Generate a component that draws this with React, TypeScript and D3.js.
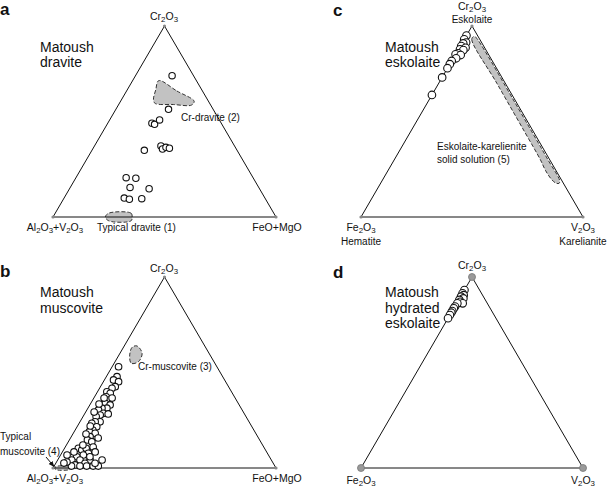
import React from 'react';
import * as d3 from 'd3';

const FONT = '"Liberation Sans", Arial, Helvetica, sans-serif';

// ---- Data: ternary points as [top component, right component]; left = 1 - top - right ----
// Panel a: Matoush dravite  [Cr2O3, FeO+MgO]
const dravitePoints: [number, number][] = [
  [0.740, 0.164], [0.564, 0.236], [0.491, 0.198], [0.485, 0.213], [0.508, 0.224],
  [0.349, 0.235], [0.372, 0.298], [0.356, 0.313], [0.365, 0.324], [0.360, 0.342],
  [0.206, 0.225], [0.203, 0.270], [0.155, 0.268], [0.148, 0.357],
  [0.099, 0.270], [0.093, 0.296], [0.096, 0.350],
];
const crDraviteField: [number, number][] = [
  [0.714, 0.117], [0.66, 0.225], [0.606, 0.330], [0.586, 0.328], [0.589, 0.245],
  [0.595, 0.160], [0.615, 0.143], [0.665, 0.128],
];
const typicalDraviteField: [number, number][] = [
  [0.02, 0.24], [0.02, 0.34], [0.0, 0.355], [-0.02, 0.36], [-0.02, 0.26], [0.0, 0.235],
];

// Panel b: Matoush muscovite [Cr2O3, FeO+MgO]
const muscovitePoints: [number, number][] = [
  [0.530, 0.029], [0.478, 0.048], [0.461, 0.041], [0.452, 0.068], [0.426, 0.066],
  [0.417, 0.056], [0.399, 0.042], [0.391, 0.061], [0.373, 0.052], [0.356, 0.071],
  [0.339, 0.065], [0.330, 0.091], [0.313, 0.085], [0.313, 0.063], [0.304, 0.052],
  [0.286, 0.083], [0.277, 0.073], [0.269, 0.059], [0.242, 0.090], [0.242, 0.068],
  [0.234, 0.057], [0.216, 0.088], [0.199, 0.079], [0.190, 0.068], [0.182, 0.098],
  [0.164, 0.084], [0.147, 0.081], [0.138, 0.105], [0.103, 0.062], [0.094, 0.082],
  [0.103, 0.097], [0.077, 0.120], [0.068, 0.102], [0.059, 0.077], [0.042, 0.063],
  [0.042, 0.100], [0.042, 0.145], [0.025, 0.131], [0.016, 0.091], [0.010, 0.116],
  [0.010, 0.146], [0.010, 0.175], [0.010, 0.198], [0.010, 0.078], [0.025, 0.176],
  [0.059, 0.136], [0.031, 0.047],
  [0.366, 0.046], [0.366, 0.082], [0.335, 0.039], [0.283, 0.106], [0.293, 0.038],
  [0.220, 0.057], [0.178, 0.059], [0.157, 0.124], [0.120, 0.074], [0.110, 0.125],
  [0.084, 0.052], [0.084, 0.147], [0.068, 0.029], [0.042, 0.199], [0.026, 0.036],
];
const crMuscoviteField: [number, number][] = [
  [0.639, 0.057], [0.601, 0.099], [0.557, 0.105], [0.548, 0.077], [0.592, 0.048], [0.632, 0.039],
];
const typicalMuscoviteField: [number, number][] = [
  [0.008, 0.01], [0.008, 0.075], [0.0, 0.082], [-0.008, 0.08], [-0.008, 0.015], [0.0, 0.008],
];

// Panel c: Matoush eskolaite [Cr2O3, V2O3]
const eskolaitePoints: [number, number][] = [
  [0.950, 0.0], [0.930, 0.0], [0.913, 0.017], [0.909, 0.006], [0.895, 0.004],
  [0.886, 0.028], [0.878, 0.007], [0.874, 0.024], [0.857, 0.009], [0.852, 0.0],
  [0.848, 0.025], [0.831, 0.013], [0.817, 0.0], [0.800, 0.0], [0.779, 0.0],
  [0.731, 0.0], [0.639, 0.0],
];
const eskKarField: [number, number][] = [
  [0.945, 0.035], [0.93, 0.034], [0.70, 0.262], [0.45, 0.510], [0.30, 0.658],
  [0.245, 0.708], [0.20, 0.756], [0.178, 0.788], [0.176, 0.804], [0.19, 0.800],
  [0.30, 0.692], [0.60, 0.393], [0.90, 0.092], [0.94, 0.048],
];

// Panel d: Matoush hydrated eskolaite [Cr2O3, V2O3]
const hydratedPoints: [number, number][] = [
  [0.932, 0.0], [0.915, 0.0], [0.905, 0.010], [0.897, 0.002], [0.888, 0.017],
  [0.880, 0.003], [0.870, 0.012], [0.862, 0.027], [0.862, 0.003], [0.845, 0.001],
  [0.836, 0.0], [0.822, 0.0], [0.813, 0.0], [0.801, 0.0], [0.784, 0.0],
];

// ---- Layout ----
type Geom = { x0: number; x1: number; yBase: number; yTop: number };
const geoA: Geom = { x0: 53, x1: 276, yBase: 217, yTop: 26 };
const geoB: Geom = { x0: 53, x1: 276, yBase: 468, yTop: 277 };
const geoC: Geom = { x0: 361, x1: 583, yBase: 217, yTop: 26 };
const geoD: Geom = { x0: 361, x1: 583, yBase: 468, yTop: 277 };

function projector(g: Geom) {
  const x = d3.scaleLinear().domain([0, 1]).range([g.x0, g.x1]);
  const y = d3.scaleLinear().domain([0, 1]).range([g.yBase, g.yTop]);
  return (p: [number, number]): [number, number] => [x(p[1] + p[0] / 2), y(p[0])];
}

function Chem({ text, x, y, size = 10.5, anchor = 'middle' }: any) {
  const parts: string[] = text.match(/\d+|\D+/g) || [];
  const shift = size * 0.2;
  let prevSub = false;
  return (
    <text x={x} y={y} fontSize={size} textAnchor={anchor} fontFamily={FONT} fill="#111">
      {parts.map((p, i) => {
        const isD = /^\d+$/.test(p);
        const dy = isD ? shift : prevSub ? -shift : 0;
        prevSub = isD;
        return (
          <tspan key={i} dy={dy} fontSize={isD ? size * 0.75 : size}>{p}</tspan>
        );
      })}
    </text>
  );
}

function Label({ x, y, children, size = 10, anchor = 'start', weight = 'normal' }: any) {
  return (
    <text x={x} y={y} fontSize={size} textAnchor={anchor} fontFamily={FONT} fontWeight={weight} fill="#111">
      {children}
    </text>
  );
}

function Panel({ g, points, fields, r, bigVertex }: any) {
  const proj = projector(g);
  const tri = d3.line()([proj([1, 0]), proj([0, 0]), proj([0, 1])]) + 'Z';
  const fieldLine = d3.line().curve(d3.curveCatmullRomClosed.alpha(0.5));
  const verts = [proj([1, 0]), proj([0, 0]), proj([0, 1])];
  return (
    <g>
      {fields.map((f: any, i: number) => (
        <path key={i} d={fieldLine(f.map(proj)) || ''} fill="#c2c2c2" stroke="#333"
          strokeWidth={1} strokeDasharray="4 2" />
      ))}
      <path d={tri} fill="none" stroke="#111" strokeWidth={1} />
      {verts.map((v, i) => (
        <circle key={i} cx={v[0]} cy={v[1]} r={bigVertex ? 3.5 : 1.6}
          fill={bigVertex ? '#9a9a9a' : '#888'} stroke={bigVertex ? '#777' : 'none'} strokeWidth={0.8} />
      ))}
      {points.map((p: [number, number], i: number) => {
        const [cx, cy] = proj(p);
        return <circle key={i} cx={cx} cy={cy} r={r} fill="#fff" stroke="#111" strokeWidth={1.1} />;
      })}
    </g>
  );
}

export default function App() {
  return (
    <svg width={609} height={489} style={{ position: 'absolute', left: 0, top: 0, background: '#fff' }}
      xmlns="http://www.w3.org/2000/svg">
      <rect width={609} height={489} fill="#fff" />
      <defs>
        <marker id="arr" viewBox="0 0 10 10" refX="9" refY="5" markerWidth="6" markerHeight="6" orient="auto">
          <path d="M0,1 L10,5 L0,9 Z" fill="#111" />
        </marker>
      </defs>

      {/* Panel a */}
      <Label x={0} y={15} size={17} weight="bold">a</Label>
      <Panel g={geoA} points={dravitePoints} fields={[crDraviteField, typicalDraviteField]} r={3.2} />
      <Chem text="Cr2O3" x={164} y={20} />
      <Chem text="Al2O3+V2O3" x={55} y={231} />
      <Chem text="FeO+MgO" x={277} y={231} />
      <Label x={40} y={52} size={14}>Matoush</Label>
      <Label x={40} y={67} size={14}>dravite</Label>
      <Label x={181} y={121}>Cr-dravite (2)</Label>
      <Label x={97} y={231}>Typical dravite (1)</Label>

      {/* Panel b */}
      <Label x={0} y={277} size={17} weight="bold">b</Label>
      <Panel g={geoB} points={muscovitePoints} fields={[crMuscoviteField, typicalMuscoviteField]} r={3.3} />
      <Chem text="Cr2O3" x={164} y={272} />
      <Chem text="Al2O3+V2O3" x={55} y={482} />
      <Chem text="FeO+MgO" x={277} y={482} />
      <Label x={40} y={297} size={14}>Matoush</Label>
      <Label x={40} y={313} size={14}>muscovite</Label>
      <Label x={138} y={370}>Cr-muscovite (3)</Label>
      <Label x={0} y={440}>Typical</Label>
      <Label x={0} y={455}>muscovite (4)</Label>
      <line x1={46} y1={457} x2={54} y2={466.5} stroke="#111" strokeWidth={1} markerEnd="url(#arr)" />

      {/* Panel c */}
      <Label x={333} y={16} size={17} weight="bold">c</Label>
      <Panel g={geoC} points={eskolaitePoints} fields={[eskKarField]} r={3.8} />
      <Chem text="Cr2O3" x={472} y={10} />
      <Label x={472} y={23} anchor="middle">Eskolaite</Label>
      <Chem text="Fe2O3" x={361} y={231} />
      <Label x={361} y={245} anchor="middle">Hematite</Label>
      <Chem text="V2O3" x={583} y={231} />
      <Label x={583} y={245} anchor="middle">Karelianite</Label>
      <Label x={385} y={52} size={14}>Matoush</Label>
      <Label x={385} y={67} size={14}>eskolaite</Label>
      <Label x={437} y={150}>Eskolaite-karelienite</Label>
      <Label x={437} y={163}>solid solution (5)</Label>

      {/* Panel d */}
      <Label x={333} y={278} size={17} weight="bold">d</Label>
      <Panel g={geoD} points={hydratedPoints} fields={[]} r={3.8} bigVertex />
      <Chem text="Cr2O3" x={472} y={269} />
      <Chem text="Fe2O3" x={361} y={484} />
      <Chem text="V2O3" x={583} y={484} />
      <Label x={385} y={297} size={14}>Matoush</Label>
      <Label x={385} y={312.5} size={14}>hydrated</Label>
      <Label x={385} y={328} size={14}>eskolaite</Label>
    </svg>
  );
}
